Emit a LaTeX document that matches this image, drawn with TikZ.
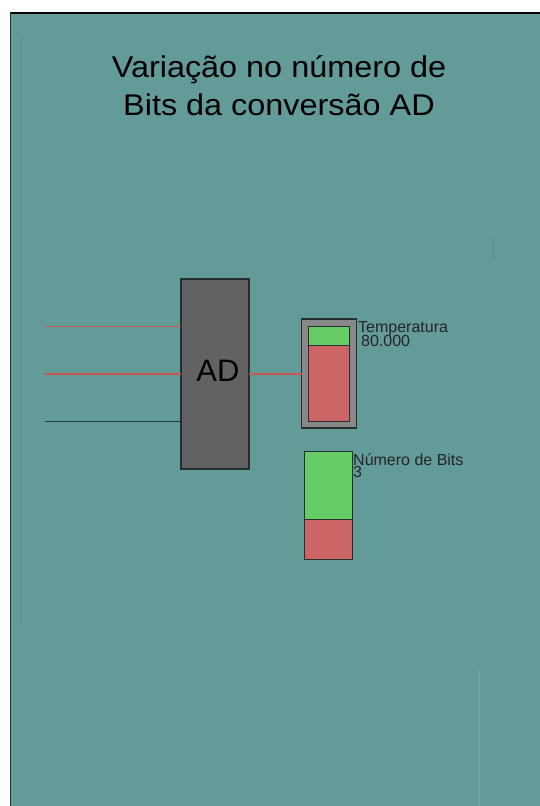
\documentclass[tikz,border=0pt]{standalone}
\usepackage{fontspec}
\setmainfont{Liberation Sans}
\definecolor{bgteal}{RGB}{98,155,152}
\definecolor{boxgray}{RGB}{98,98,98}
\definecolor{gaugegray}{RGB}{136,136,136}
\definecolor{okgreen}{RGB}{102,204,102}
\definecolor{badred}{RGB}{204,102,102}
\definecolor{wirered}{RGB}{200,85,85}
\definecolor{wiredark}{RGB}{40,60,60}
\definecolor{edgedark}{RGB}{40,45,45}
\begin{document}
\begin{tikzpicture}[x=1pt,y=-1pt,
  block/.style={draw=edgedark,line width=1.2pt,fill=boxgray,inner sep=0pt,outer sep=0pt},
  bar/.style={draw=edgedark,line width=1pt,inner sep=0pt,outer sep=0pt},
  lbl/.style={inner sep=0pt,anchor=base west,text=black!85,font=\fontsize{16}{16}\selectfont},
  wire/.style={line width=1.6pt}]
\useasboundingbox (0,0) rectangle (540,806);
% background
\fill[white] (0,0) rectangle (540,806);
\fill[bgteal] (10,12) rectangle (540,806);
\draw[black,line width=2pt] (10,13) -- (540,13);
\draw[edgedark,line width=1pt] (10.5,12) -- (10.5,806);
% faint artifacts
\draw[bgteal!92!black,line width=1.5pt] (21.5,36) -- (21.5,625);
\draw[bgteal!90!black,line width=1pt] (493,238) -- (493,260);
\draw[bgteal!85!white,line width=1pt] (479,670) -- (479,806);
% title
\node[inner sep=0pt,anchor=base,font=\fontsize{30}{30}\selectfont,xscale=1.08] (t1) at (279,77) {Variação no número de};
\node[inner sep=0pt,anchor=base,font=\fontsize{30}{30}\selectfont,xscale=1.08] (t2) at (279,115) {Bits da conversão AD};
% AD block
\node[block,minimum width=68pt,minimum height=190pt] (ad) at (215,374) {};
\node[inner sep=0pt,font=\fontsize{31}{31}\selectfont,text=black] (adtxt) at (218,371) {AD};
% input wires
\coordinate (in1) at (45,326.5);
\coordinate (in2) at (45,374);
\coordinate (in3) at (45,421.5);
\draw[wire,wirered] (in1) -- (in1 -| ad.west);
\draw[wire,wirered] (in2) -- (in2 -| ad.west);
\draw[wire,wiredark] (in3) -- (in3 -| ad.west);
% temperature gauge
\node[bar,fill=gaugegray,line width=1.3pt,minimum width=55pt,minimum height=109pt] (tg) at (329.2,373.5) {};
\node[bar,fill=okgreen,minimum width=41.5pt,minimum height=19pt] (tgg) at (329.2,335.5) {};
\node[bar,fill=badred,minimum width=41.5pt,minimum height=76.5pt,anchor=north] (tgr) at (tgg.south) {};
\draw[wire,wirered] (ad.east |- in2) -- (tg.west |- in2);
\node[lbl] (tlab) at (358,332.5) {Temperatura};
\node[lbl] (tval) at (361,346) {80.000};
% bits gauge
\node[bar,fill=okgreen,minimum width=48pt,minimum height=68pt,anchor=north west] (bg) at (304,451) {};
\node[bar,fill=badred,minimum width=48pt,minimum height=40pt,anchor=north west] (br) at (bg.south west) {};
\node[lbl] (blab) at (353,465) {Número de Bits};
\node[lbl] (bval) at (353,477.5) {3};
\end{tikzpicture}
\end{document}
